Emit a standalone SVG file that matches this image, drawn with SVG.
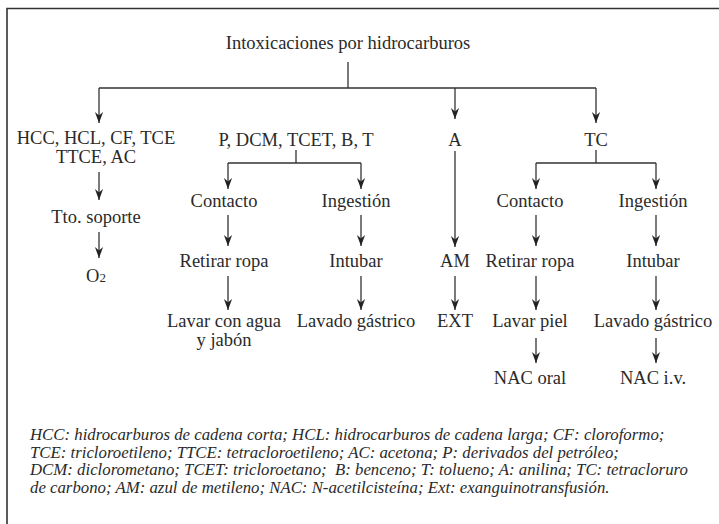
<svg xmlns="http://www.w3.org/2000/svg" width="719" height="524" viewBox="0 0 719 524">
<defs>
<marker id="ah" markerUnits="userSpaceOnUse" markerWidth="12" markerHeight="10" viewBox="0 0 12 10" refX="11" refY="5" orient="auto">
<path d="M0,0.9 L11,5 L0,9.1 L3.5,5 Z" fill="#222"/>
</marker>
<style>
text{font-family:"Liberation Serif",Tinos,"DejaVu Serif","Noto Serif",serif;font-size:18.5px;fill:#2a2a2a;text-anchor:middle}
.leg{font-style:italic;font-size:16.8px;text-anchor:start;white-space:pre}
.ln{fill:none;stroke:#333;stroke-width:1.3}
.ar{fill:none;stroke:#333;stroke-width:1.3;marker-end:url(#ah)}
.frame{fill:none;stroke:#333;stroke-width:1.6}
</style>
</defs>
<rect width="719" height="524" fill="#fff"/>
<path class="frame" d="M7,524 V8.5 H719"/>

<g id="connectors">
<path class="ln" d="M348,62 V88 M99,88 H596"/>
<path class="ar" d="M99,88 V123"/>
<path class="ar" d="M455,88 V119"/>
<path class="ar" d="M596,88 V123"/>
<path class="ar" d="M99,172 V200"/>
<path class="ar" d="M99,232 V258"/>
<path class="ln" d="M296,150 V163 M228,163 H361"/>
<path class="ar" d="M228,163 V189"/>
<path class="ar" d="M361,163 V189"/>
<path class="ar" d="M228,215 V246"/>
<path class="ar" d="M228,276 V310"/>
<path class="ar" d="M361,215 V246"/>
<path class="ar" d="M361,276 V310"/>
<path class="ar" d="M455,151 V247"/>
<path class="ar" d="M455,276 V310"/>
<path class="ln" d="M596,150 V163 M536,163 H656"/>
<path class="ar" d="M536,163 V189"/>
<path class="ar" d="M656,163 V189"/>
<path class="ar" d="M536,215 V246"/>
<path class="ar" d="M536,276 V310"/>
<path class="ar" d="M536,338 V363"/>
<path class="ar" d="M656,215 V246"/>
<path class="ar" d="M656,276 V310"/>
<path class="ar" d="M656,338 V363"/>
</g>

<g id="n-root"><text x="348" y="49">Intoxicaciones por hidrocarburos</text></g>
<g id="n-hcc"><text x="96" y="144">HCC, HCL, CF, TCE</text><text x="96" y="163">TTCE, AC</text></g>
<g id="n-p"><text x="296" y="146">P, DCM, TCET, B, T</text></g>
<g id="n-a"><text x="455" y="146">A</text></g>
<g id="n-tc"><text x="596" y="146">TC</text></g>
<g id="n-tto"><text x="96" y="223">Tto. soporte</text></g>
<g id="n-o2"><text x="96" y="282">O<tspan font-size="13">2</tspan></text></g>
<g id="n-contacto1"><text x="224" y="207">Contacto</text></g>
<g id="n-retirar1"><text x="224" y="267">Retirar ropa</text></g>
<g id="n-lavar1"><text x="224" y="327">Lavar con agua</text><text x="224" y="346">y jabón</text></g>
<g id="n-ingestion1"><text x="356" y="207">Ingestión</text></g>
<g id="n-intubar1"><text x="356" y="267">Intubar</text></g>
<g id="n-lavado1"><text x="356" y="327">Lavado gástrico</text></g>
<g id="n-am"><text x="455" y="267">AM</text></g>
<g id="n-ext"><text x="455" y="327">EXT</text></g>
<g id="n-contacto2"><text x="530" y="207">Contacto</text></g>
<g id="n-retirar2"><text x="530" y="267">Retirar ropa</text></g>
<g id="n-lavar2"><text x="530" y="327">Lavar piel</text></g>
<g id="n-nacoral"><text x="530" y="384">NAC oral</text></g>
<g id="n-ingestion2"><text x="653" y="207">Ingestión</text></g>
<g id="n-intubar2"><text x="653" y="267">Intubar</text></g>
<g id="n-lavado2"><text x="653" y="327">Lavado gástrico</text></g>
<g id="n-naciv"><text x="653" y="384">NAC i.v.</text></g>

<g id="legend">
<text class="leg" x="30" y="440">HCC: hidrocarburos de cadena corta; HCL: hidrocarburos de cadena larga; CF: cloroformo;</text>
<text class="leg" x="30" y="457.5">TCE: tricloroetileno; TTCE: tetracloroetileno; AC: acetona; P: derivados del petróleo;</text>
<text class="leg" x="30" y="475">DCM: diclorometano; TCET: tricloroetano;  B: benceno; T: tolueno; A: anilina; TC: tetracloruro</text>
<text class="leg" x="30" y="492.5">de carbono; AM: azul de metileno; NAC: N-acetilcisteína; Ext: exanguinotransfusión.</text>
</g>
</svg>
